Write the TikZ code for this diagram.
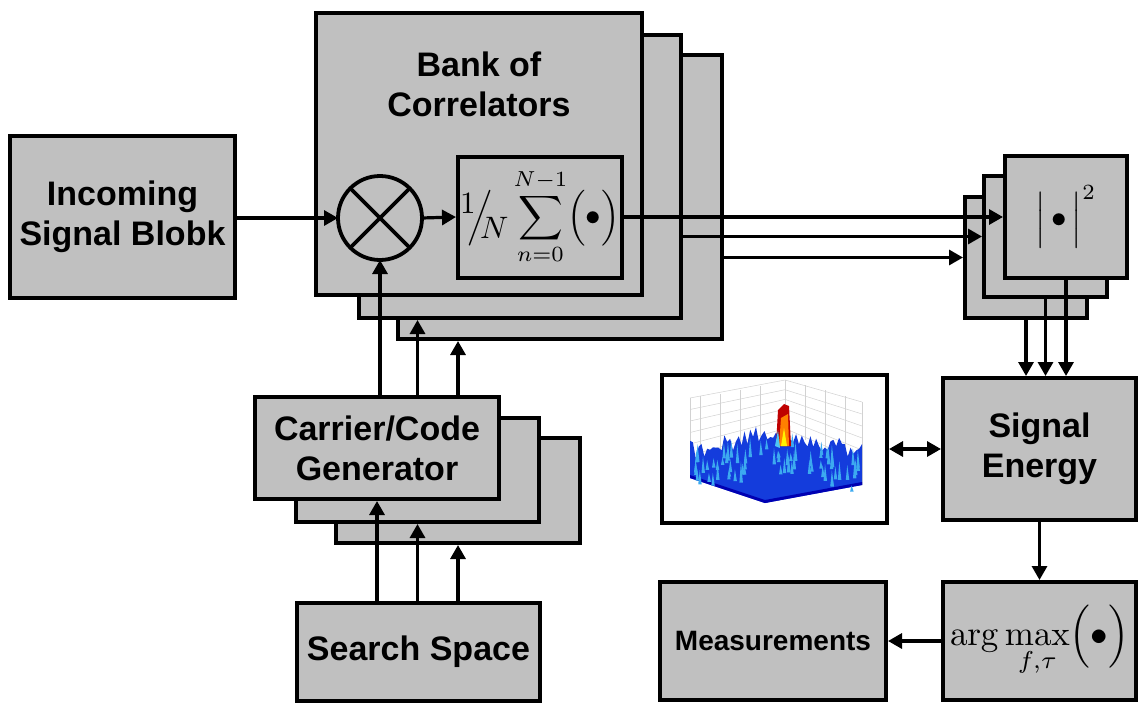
\documentclass[tikz,border=0pt]{standalone}
\usepackage[no-math]{fontspec}
\newfontfamily\lsans{Liberation Sans}
\usetikzlibrary{arrows.meta}
\definecolor{boxgray}{RGB}{192,192,192}
\definecolor{surfblue}{RGB}{20,60,220}
\definecolor{spike}{RGB}{60,170,240}
\begin{document}
\begin{tikzpicture}[x=1pt,y=-1pt,
 box/.style={draw, line width=4pt, fill=boxgray, inner sep=0pt, align=center,
   font=\lsans\bfseries\fontsize{34}{40}\selectfont},
 tip/.tip={Triangle[length=14pt,width=15pt]},
 arr/.style={line width=3.2pt, -tip},
 darr/.style={line width=3.2pt, tip-tip},
]
\useasboundingbox[fill=white] (0,0) rectangle (1139,704);

% Incoming
\node[box, minimum width=225pt, minimum height=162pt] (inc) at (122.5,217) {Incoming\\Signal Blobk};

% Bank of correlators
\node[box, minimum width=324pt, minimum height=284pt] (corr3) at (560,197) {};
\node[box, minimum width=322pt, minimum height=283pt] (corr2) at (520,176.5) {};
\node[box, minimum width=326pt, minimum height=282pt] (corr1) at (479,154) {};
\node[font=\lsans\bfseries\fontsize{34}{40}\selectfont, align=center] (corrlbl) at (479,84) {Bank of\\Correlators};
\node[draw, circle, line width=3.8pt, minimum size=84pt, inner sep=0pt, outer sep=0pt] (mult) at (380,218) {};
\draw[line width=3.8pt] (mult.north west) -- (mult.south east) (mult.north east) -- (mult.south west);
\node[box, minimum width=164pt, minimum height=121pt, font=\normalsize] (sum) at (540,217)
 {\scalebox{3.1}{$\raisebox{.4em}{$1$}\mkern-5mu\Big/\mkern-7mu\raisebox{-.4em}{$N$}\displaystyle\sum_{n=0}^{N-1}\Bigl(\bullet\Bigr)$}};

% |.|^2 stack
\node[box, minimum width=122pt, minimum height=121pt] (sq3) at (1026,257.5) {};
\node[box, minimum width=123pt, minimum height=121pt] (sq2) at (1045.5,236.5) {};
\node[box, minimum width=122pt, minimum height=122pt, font=\normalsize] (sq1) at (1066,217)
 {\scalebox{3.1}{$\left|\rule[-.65em]{0pt}{1.75em}\,\bullet\,\right|^{2}$}};

% Signal energy, argmax, measurements
\node[box, minimum width=193pt, minimum height=142pt] (energy) at (1039.5,449) {Signal\\Energy};
\node[box, minimum width=193pt, minimum height=118pt, font=\normalsize] (amax) at (1039.5,641)
 {\scalebox{3.5}{$\displaystyle\arg\max_{f,\tau}\Bigl(\bullet\Bigr)$}};
\node[box, minimum width=226pt, minimum height=118pt, font=\lsans\bfseries\fontsize{28}{32}\selectfont] (meas) at (773,641) {Measurements};

% Plot
\node[draw, line width=4pt, fill=white, minimum width=225pt, minimum height=148pt, inner sep=0pt] (plot) at (774.5,449) {};
\begin{scope}
\draw[gray!35, line width=0.5pt]
  (690,478) -- (690,398) (785,438) -- (785,380) (862,485) -- (862,402);
\foreach \k in {0,...,6}{
  \draw[gray!35, line width=0.5pt] (690,{398+\k*11.5}) -- (785,{380+\k*9.7}) -- (862,{402+\k*12});
}
\draw[gray!35, line width=0.5pt] (700,478) -- (700,396) (720,478) -- (720,394) (740,478) -- (740,390) (760,478) -- (760,386)
  (805,440) -- (805,385) (825,450) -- (825,390) (845,460) -- (845,396);
\pgfmathsetseed{11}
\fill[surfblue] (690,478) -- (765,503) -- (862,485)
  foreach \i in {60,...,0} { -- ({690+\i*2.867},{max(460-\i*2.867*0.2, 441+(\i*2.867-95)*0.31) - 22*rnd}) } -- cycle;
\fill[blue!70!black] (690,478) -- (765,503) -- (862,485) -- (862,482) -- (765,500) -- (690,475) -- cycle;
\foreach \j in {1,...,70}{
  \pgfmathsetmacro{\xx}{693+165*rnd}
  \pgfmathsetmacro{\yy}{max(457-(\xx-690)*0.2, 438+(\xx-785)*0.31)+6+30*rnd}
  \pgfmathsetmacro{\hh}{6+16*rnd}
  \fill[spike] (\xx,\yy) -- ({\xx+1.5},{\yy-\hh}) -- ({\xx+3.5},\yy) -- cycle;
}
\fill[red!75!black] (776,446) -- (778,410) -- (784,404) -- (789,406) -- (791,446) -- cycle;
\fill[orange] (779,446) -- (781,418) -- (788,414) -- (789,446) -- cycle;
\fill[yellow] (781,446) -- (784,428) -- (787,446) -- cycle;
\fill[cyan!70] (775,446) -- (778,430) -- (780,448) -- cycle;
\end{scope}

% Carrier/code generator stack
\node[box, minimum width=244pt, minimum height=105pt] (gen3) at (458,490.5) {};
\node[box, minimum width=243pt, minimum height=104pt] (gen2) at (417.5,470) {};
\node[box, minimum width=244pt, minimum height=102pt] (gen1) at (377,448) {Carrier/Code\\Generator};

% Search space
\node[box, minimum width=243pt, minimum height=98pt] (search) at (418.5,652) {Search Space};

% Connectors
\draw[arr] (inc.east |- mult.west) -- (mult.west);
\draw[arr] (mult.east) -- (sum.west);
\draw[arr] (sum.east) -- (sum.east -| sq1.west);
\draw[arr] (corr2.east |- sq2.west) -- (sq2.west);
\draw[arr] (corr3.east |- sq3.west) -- (sq3.west);
\draw[arr] (sq3.south) -- (sq3.south |- energy.north);
\draw[arr] (sq2.south) -- (sq2.south |- energy.north);
\draw[arr] (sq1.south) -- (sq1.south |- energy.north);
\draw[darr] (plot.east) -- (energy.west);
\draw[arr] (energy.south) -- (amax.north);
\draw[arr] (amax.west) -- (meas.east);
\draw[arr] (gen1.south |- search.north) -- (gen1.south);
\draw[arr] (gen2.south |- search.north) -- (gen2.south);
\draw[arr] (gen3.south |- search.north) -- (gen3.south);
\draw[arr] (mult.south |- gen1.north) -- (mult.south);
\draw[arr] (gen2.north |- gen1.north) -- (gen2.north |- corr2.south);
\draw[arr] (gen3.north |- gen1.north) -- (gen3.north |- corr3.south);
\end{tikzpicture}
\end{document}
